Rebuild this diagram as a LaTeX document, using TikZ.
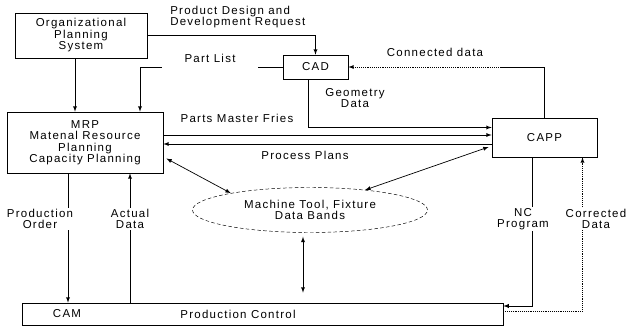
\documentclass[tikz,border=0pt]{standalone}
\usepackage{fontspec}
\setmainfont{Liberation Sans}[LetterSpace=11]
\usetikzlibrary{calc,shapes.geometric}
\begin{document}
\begin{tikzpicture}[x=0.03cm, y=-0.03cm, >=latex, line width=0.6pt,
  every node/.style={font=\fontsize{9.8}{9.8}\selectfont, align=center},
  box/.style={draw, inner sep=0pt},
  gaplbl/.style={fill=white, inner sep=1pt}]
\useasboundingbox (0,0) rectangle (630,331);
%%%% Boxes:
\node[box, minimum width=3.96cm, minimum height=1.35cm] (org) at (81,35.5) {Organizational\\Planning\\System};
\node[box, minimum width=1.95cm, minimum height=0.72cm] (cad) at (315.5,67) {CAD};
\node[box, minimum width=4.68cm, minimum height=1.83cm] (mrp) at (85,142.5) {MRP\\Matenal Resource\\Planning\\Capacity Planning};
\node[box, minimum width=3.15cm, minimum height=1.17cm] (capp) at (544.5,137.5) {CAPP};
\node[draw, ellipse, densely dashed, line width=0.4pt, minimum width=7.05cm, minimum height=1.35cm, inner sep=0pt] (mtf) at (310,210) {Machine Tool, Fixture\\Data Bands};
\node[box, minimum width=14.43cm, minimum height=0.66cm] (pc) at (262.5,314) {};
\node (cam) at (67,314) {CAM};
\node (prodctl) at (238,314) {Production Control};

%%%% Top connectors
\node[anchor=west, align=left] (pdreq) at (166,17) {Product Design and\\Development Request};
\draw[->] (org.east) -| (cad.north);
\draw[->] ($(org.south)+(-6,0)$) coordinate (o1) -- (o1 |- mrp.north);
\draw[->] (cad.west) -| ($(mrp.north)+(55,0)$);
\node[gaplbl, minimum width=2.85cm, minimum height=0.6cm] (partlist) at (210,58) {Part List};
\draw (capp.north) |- ($(cad.east)+(152,0)$) coordinate (cd);
\draw[->, densely dotted] (cd) -- (cad.east);
\node (condata) at (435,52) {Connected data};
\draw[->] ($(cad.south)+(-7,0)$) |- ($(capp.west)+(0,-10)$);
\node (geodata) at (355,98) {Geometry\\Data};

%%%% MRP <-> CAPP
\draw[->] ($(mrp.east)+(0,-7.5)$) coordinate (pm) -- (pm -| capp.west);
\node (pmf) at (237,118) {Parts Master Fries};
\draw[->] ($(capp.west)+(0,6.5)$) coordinate (pp) -- (pp -| mrp.east);
\node (pplans) at (305,155) {Process Plans};

%%%% Data bank
\draw[<->] ($(mrp.east)+(3,16)$) -- (mtf.168);
\draw[<->] ($(capp.west)+(-3,9.5)$) -- (mtf.20);
\draw[<->, shorten >=0.3cm] ($(mtf.south)+(-7,4)$) coordinate (m1) -- (m1 |- pc.north);

%%%% Bottom connectors
\draw[->] ($(mrp.south)+(-17,0)$) coordinate (po) -- (po |- pc.north);
\node[gaplbl] (prodord) at (40,219) {Production\\Order};
\draw[<-] ($(mrp.south)+(45,0)$) coordinate (ad) -- (ad |- pc.north);
\node[gaplbl] (actdata) at (130,219) {Actual\\Data};
\draw[->] ($(capp.south)+(-12,0)$) |- ($(pc.east)+(0,-8)$);
\node[gaplbl] (ncprog) at (523,219) {NC\\Program};
\draw[->, densely dotted] ($(pc.east)+(0,-3)$) -| ($(capp.south)+(38,0)$);
\node[gaplbl] (corrdata) at (596,219) {Corrected\\Data};
\end{tikzpicture}
\end{document}
